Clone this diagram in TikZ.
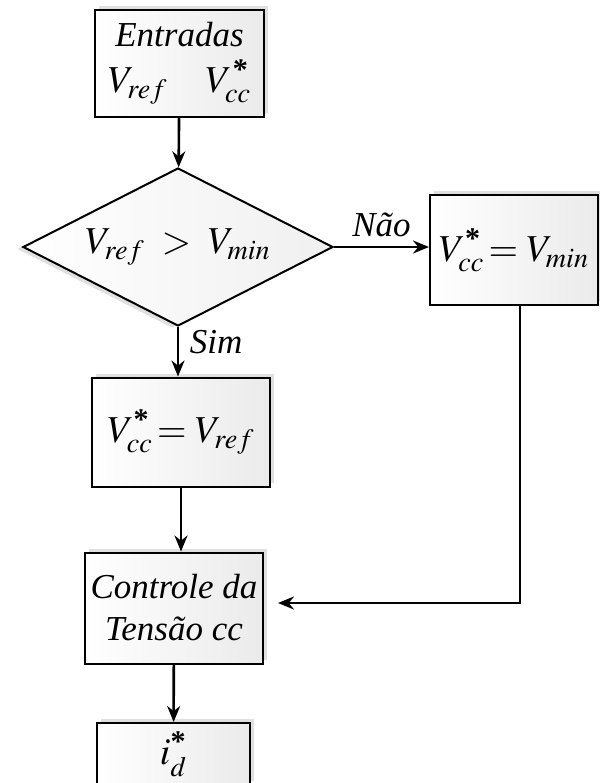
\documentclass[tikz,border=0pt]{standalone}
\usepackage{mathptmx}
\usepackage[no-math]{fontspec}
\setmainfont{Liberation Serif}
\usetikzlibrary{shapes.geometric,arrows.meta,shadows}

\newcommand{\estrela}{\mbox{\fontsize{15}{15}\selectfont\bfseries *}}

\tikzset{
  bloco/.style={draw, line width=1pt, left color=white, right color=black!8,
    align=center, inner sep=2pt, font=\fontsize{17.5}{21}\selectfont\itshape,
    drop shadow={shadow xshift=2pt, shadow yshift=2pt, fill=black!12, opacity=1}},
  decisao/.style={diamond, aspect=1.96, draw, line width=1pt, left color=white, right color=black!6,
    inner sep=0pt, font=\fontsize{19}{22}\selectfont,
    drop shadow={shadow xshift=-3pt, shadow yshift=-1pt, fill=black!12, opacity=1}},
  rotulo/.style={font=\fontsize{17.5}{21}\selectfont\itshape},
  formula/.style={font=\fontsize{19}{22}\selectfont}
}

\begin{document}
\begin{tikzpicture}[x=0.5pt, y=-0.5pt, >={Stealth[length=8pt,width=6.5pt]}, line width=1.3pt]
\useasboundingbox (0,0) rectangle (600,783);

% blocos
\node[bloco, minimum width=84.5pt, minimum height=53.5pt] (entradas) at (179.5,63.5)
  {Entradas\\[2pt] {\fontsize{19}{22}\selectfont$V_{ref}\quad V_{cc}^{\estrela}$}};
\node[decisao, minimum width=155pt, minimum height=79pt] (teste) at (178,247)
  {$V_{ref} \;>\; V_{min}$};
\node[bloco, formula, minimum width=84pt, minimum height=55pt] (nao) at (514,250)
  {$V_{cc}^{\estrela}\!= V_{min}$};
\node[bloco, formula, minimum width=89pt, minimum height=54.5pt] (simb) at (181,432)
  {$V_{cc}^{\estrela}\!= V_{ref}$};
\node[bloco, minimum width=89pt, minimum height=55.5pt] (controle) at (174,608)
  {Controle da\\Tensão cc};
\node[bloco, formula, minimum width=76.5pt, minimum height=31pt] (saida) at (173.5,754)
  {$i_d^{\estrela}$};

% ligacoes
\coordinate (canto) at (520,603);
\draw[->] (entradas) -- (teste);
\draw[->] (teste.east) -- node[above, rotulo, yshift=1pt] {Não} (teste.east -| nao.west);
\draw[->] (teste.south) -- node[right, rotulo, pos=0.3, xshift=2pt] {Sim} (teste.south |- simb.north);
\draw[->] (simb.south) -- (simb.south |- controle.north);
\draw[->] (nao.south -| canto) -- (canto) -- ([xshift=7pt]controle.east |- canto);
\draw[->] (controle) -- (saida);
\end{tikzpicture}
\end{document}
